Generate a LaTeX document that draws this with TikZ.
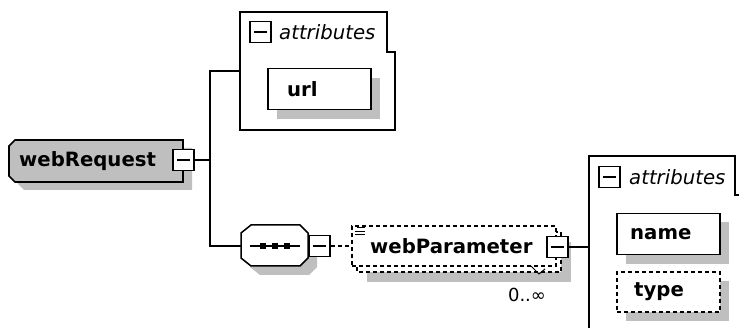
\documentclass[tikz,border=0pt]{standalone}
\usepackage{fontspec}
\setmainfont{DejaVu Sans}
\begin{document}
\begin{tikzpicture}[x=1pt,y=-1pt,line join=miter]
\tikzset{
  conn/.style={line width=1.4pt, black},
  outline/.style={draw=black, line width=1.6pt},
  shadowfill/.style={fill=black!25, draw=none},
  dsh/.style={dash pattern=on 4pt off 3pt},
  lbl/.style={font=\fontsize{19.7}{22}\selectfont\bfseries, inner sep=0pt, anchor=west},
  attrlbl/.style={font=\fontsize{19.7}{22}\selectfont\itshape, inner sep=0pt, anchor=west},
  occlbl/.style={font=\fontsize{18}{20}\selectfont, inner sep=0pt},
  attrbox/.style={outline, fill=white, minimum width=103pt, minimum height=41pt, inner sep=0pt},
  btn/.style={draw=black, line width=1.5pt, fill=white, minimum size=21pt, inner sep=0pt,
    path picture={\draw[line width=1.5pt] ([xshift=4pt]path picture bounding box.west) -- ([xshift=-4pt]path picture bounding box.east);}},
}
\useasboundingbox (0,0) rectangle (739,328);

% ---- webRequest
\fill[shadowfill] (24,148) -- (192,148) -- (192,190) -- (24,190) -- (18,184) -- (18,154) -- cycle;
\draw[outline, fill=black!25] (15,140) -- (183,140) -- (183,182) -- (15,182) -- (9,176) -- (9,146) -- cycle;
\node[lbl] (wr) at (19,161) {webRequest};
\node[btn] (wrbtn) at (183.5,160) {};

% ---- bus
\coordinate (bus) at (210,0);

% ---- top attributes
\draw[outline, line width=1.5pt, fill=white] (240,12) -- (387,12) -- (387,52) -- (395,52) -- (395,130) -- (240,130) -- cycle;
\coordinate (attr1w) at (240,71);
\node[btn] (attr1btn) at (260.5,32) {};
\node[attrlbl] (attr1lbl) at (279,32) {attributes};
\fill[shadowfill] (277,78) rectangle (380,119);
\node[attrbox] (urlbox) at (319.5,89) {};
\node[lbl] (url) at (287,89) {url};

% ---- sequence
\fill[shadowfill] (260,234) -- (309,234) -- (317,242) -- (317,267) -- (309,275) -- (260,275) -- (250,267) -- (250,242) -- cycle;
\draw[outline, line width=1.5pt, fill=white] (251,225) -- (300,225) -- (308,233) -- (308,258) -- (300,266) -- (251,266) -- (241,258) -- (241,233) -- cycle;
\coordinate (seqw) at (241,246);
\draw[line width=1.2pt] (250,246) -- (300,246);
\foreach \dx in {263,275,287} \fill (\dx,246) +(-2.8,-2.8) rectangle +(2.8,2.8);
\node[btn] (seqbtn) at (319.5,246) {};

% ---- webParameter
\fill[shadowfill] (367,242) rectangle (571,282);
\draw[dsh, line width=1.5pt, fill=white] (357,232) rectangle (561,272);
\node[draw=black, dsh, line width=1.5pt, fill=white, minimum width=204pt, minimum height=40pt, inner sep=0pt] (wpbox) at (454,246) {};
\foreach \yy/\xa in {228/357,231.5/355,235/355} \draw[line width=1pt] (\xa,\yy) -- (365,\yy);
\node[lbl] (wp) at (370,246) {webParameter};
\node[btn] (wpbtn) at (557.5,247) {};
\draw[line width=1pt] (531,266) -- (539,274) -- (545,269);
\node[occlbl] (occ) at (527,295) {0..∞};

% ---- bottom attributes
\draw[outline, line width=1.5pt, fill=white] (589,156) -- (735,156) -- (735,195) -- (743,195) -- (743,345) -- (589,345) -- cycle;
\coordinate (attr2w) at (589,247);
\node[btn] (attr2btn) at (609.5,177) {};
\node[attrlbl] (attr2lbl) at (629,177) {attributes};
\fill[shadowfill] (626,222) rectangle (729,264);
\node[attrbox] (namebox) at (668.5,234) {};
\node[lbl] (name) at (630,234) {name};
\fill[shadowfill] (626,281) rectangle (729,321);
\node[attrbox, dsh, minimum height=40pt] (typebox) at (668.5,292) {};
\node[lbl] (type) at (634,292) {type};

% ---- connectors
\draw[conn] (wrbtn.east) -- (wrbtn.east -| bus);
\draw[conn] (attr1w) -- (attr1w -| bus) -- (seqw -| bus) -- (seqw);
\draw[conn, dsh] (seqbtn.east) -- (wpbox.west);
\draw[conn] (wpbtn.east) -- (attr2w);
\end{tikzpicture}
\end{document}
